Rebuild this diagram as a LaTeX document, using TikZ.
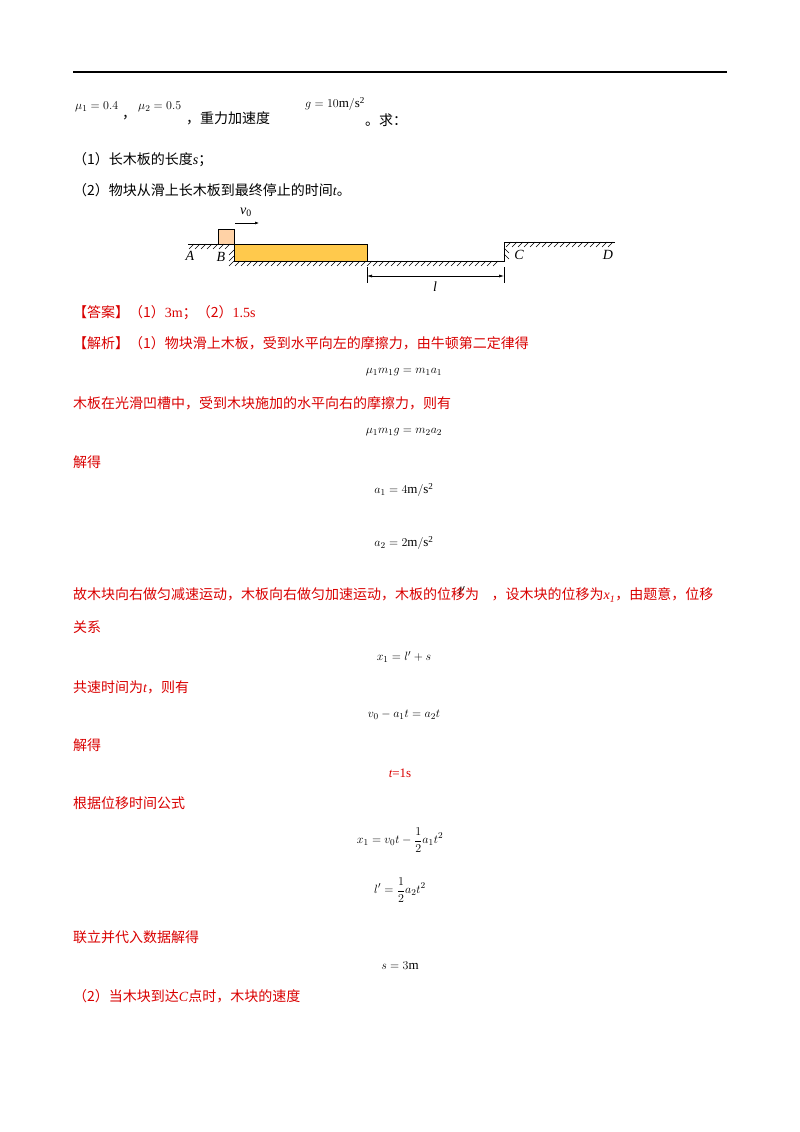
\documentclass[tikz,border=0pt]{standalone}
\usetikzlibrary{arrows.meta}
\usepackage{fontspec}
\setmainfont{Liberation Serif}
\newfontfamily\cjk{Noto Sans CJK SC}
\begin{document}
\begin{tikzpicture}[x=1pt,y=-1pt,
  txt/.style={anchor=west,inner sep=0pt,font=\fontsize{14}{16}\selectfont\cjk},
  rtxt/.style={txt,text=red!85!black},
  eq/.style={inner sep=0pt,font=\fontsize{13}{15}\selectfont},
  lab/.style={inner sep=0pt,font=\fontsize{14}{16}\selectfont\itshape},
  gr/.style={line width=0.8pt},
  ht/.style={line width=0.5pt}]
\useasboundingbox (0,0) rectangle (800,1132);
\draw[line width=1.2pt] (73,72) -- (727,72);
% line 1
\node[eq,anchor=west] (m1) at (75,107) {$\mu_1=0.4$};
\node[txt] (c1) at (122,118) {，};
\node[eq,anchor=west] (m2) at (138,107) {$\mu_2=0.5$};
\node[txt] (c2) at (186,118) {，重力加速度};
\node[eq,anchor=west] (g) at (305,104) {$g=10\mathrm{m/s^2}$};
\node[txt] (c3) at (365,120) {。求：};
\node[txt] (q1) at (73,160) {（1）长木板的长度{\rmfamily\itshape s}；};
\node[txt] (q2) at (73,190) {（2）物块从滑上长木板到最终停止的时间{\rmfamily\itshape t}。};
% figure
\fill[orange!35!white,draw=black,line width=0.6pt] (218,229) rectangle (234,244);
\fill[orange!60!yellow!70!white,draw=black,line width=0.6pt] (234,244) rectangle (367,261);
\draw[gr] (188,244) -- (234,244) -- (234,261) -- (504,261) -- (504,242) -- (615,242);
\foreach \x in {194,200,...,230} \draw[ht] (\x,244) -- (\x-5,249);
\foreach \x in {240,246,...,502} \draw[ht] (\x,261) -- (\x-5,266);
\foreach \x in {511,517,...,615} \draw[ht] (\x,242) -- (\x-5,247);
\foreach \y in {250,256,261} \draw[ht] (234,\y) -- (229,\y+5);
\foreach \y in {248,254} \draw[ht] (504,\y) -- (509,\y+5);
\node[lab] (A) at (190,256) {A};
\node[lab] (B) at (221,257) {B};
\node[lab] (C) at (519,255) {C};
\node[lab] (D) at (608,255) {D};
\coordinate (va) at (235,223); \coordinate (vb) at (259,223);
\draw[-{Latex[length=4pt,width=3pt]},line width=0.6pt] (va) -- (vb);
\node[lab] (v0) at (246,212) {v\textsubscript{\upshape 0}};
\coordinate (l1) at (367,276); \coordinate (l2) at (504,276);
\draw[line width=0.6pt] (367,267) -- (367,283) (504,267) -- (504,283);
\draw[{Latex[length=5pt,width=3pt]}-{Latex[length=5pt,width=3pt]},line width=0.6pt] (l1) -- (l2);
\node[lab] (l) at (435,287) {l};
% answer
\node[rtxt] (ans) at (73,313) {【答案】（1）{\rmfamily 3m}；（2）{\rmfamily 1.5s}};
\node[rtxt] (t1) at (73,343) {【解析】（1）物块滑上木板，受到水平向左的摩擦力，由牛顿第二定律得};
\node[eq] (e1) at (404,372) {$\mu_1 m_1 g=m_1 a_1$};
\node[rtxt] (t2) at (73,403) {木板在光滑凹槽中，受到木块施加的水平向右的摩擦力，则有};
\node[eq] (e2) at (404,432) {$\mu_1 m_1 g=m_2 a_2$};
\node[rtxt] (t3) at (73,462) {解得};
\node[eq] (e3) at (404,490) {$a_1=4\mathrm{m/s^2}$};
\node[eq] (e4) at (404,543) {$a_2=2\mathrm{m/s^2}$};
\node[rtxt] (t4) at (73,595) {故木块向右做匀减速运动，木板向右做匀加速运动，木板的位移为\ \ \ \ ，设木块的位移为{\rmfamily\itshape x\textsubscript{1}}，由题意，位移};
\node[eq] (lp) at (462,591) {$l'$};
\node[rtxt] (t5) at (73,627) {关系};
\node[eq] (e5) at (404,657) {$x_1=l'+s$};
\node[rtxt] (t6) at (73,687) {共速时间为{\rmfamily\itshape t}，则有};
\node[eq] (e6) at (404,715) {$v_0-a_1t=a_2t$};
\node[rtxt] (t7) at (73,745) {解得};
\node[eq,text=red!85!black] (e7) at (400,773) {\itshape t\upshape =1s};
\node[rtxt] (t8) at (73,803) {根据位移时间公式};
\node[eq] (e8) at (400,840) {$\displaystyle x_1=v_0t-\frac{1}{2}a_1t^2$};
\node[eq] (e9) at (400,890) {$\displaystyle l'=\frac{1}{2}a_2t^2$};
\node[rtxt] (t9) at (73,937) {联立并代入数据解得};
\node[eq] (e10) at (400,966) {$s=3\mathrm{m}$};
\node[rtxt] (t10) at (73,996) {（2）当木块到达{\rmfamily\itshape C}点时，木块的速度};
\end{tikzpicture}
\end{document}
